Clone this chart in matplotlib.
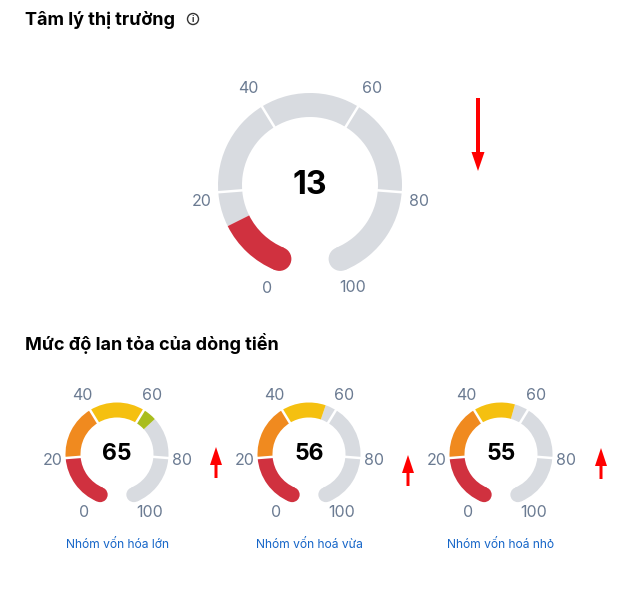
import numpy as np
import matplotlib.pyplot as plt
from matplotlib.patches import Wedge, Circle

plt.rcParams['font.family'] = ['Inter', 'DejaVu Sans']

W, H = 631, 592

# data
main_title = 'Tâm lý thị trường'
main_value = 13
main_trend = 'down'

flow_title = 'Mức độ lan tỏa của dòng tiền'
group_names = ['Nhóm vốn hóa lớn', 'Nhóm vốn hoá vừa', 'Nhóm vốn hoá nhỏ']
group_values = [65, 56, 55]
group_trends = ['up', 'up', 'up']

tick_values = [0, 20, 40, 60, 80, 100]
band_edges = [0, 20, 40, 60, 80, 100]
band_colors = ['#d0313f', '#f08a1f', '#f5c010', '#a9bd1e', '#5aa832']

GRAY = '#d8dbe0'
TICK_COLOR = '#6b7b92'
LINK_COLOR = '#1565c8'

# label placement (angle shift in deg, radius in px) per tick
MAIN_LAB = [(0, 112), (4, 110), (1, 115), (-1, 115), (-4, 110), (0, 111)]
SMALL_LAB = [(-7, 67), (1.5, 65), (-0.8, 68.5), (0.5, 68.5), (-1.5, 65), (7, 67)]

fig = plt.figure(figsize=(W / 100, H / 100), dpi=100)
ax = fig.add_axes([0, 0, 1, 1])
ax.set_xlim(0, W)
ax.set_ylim(0, H)
ax.set_aspect('equal')
ax.axis('off')


def ang(v):
    # 315 degree sweep, 0 at lower left, 100 at lower right
    return 247.5 - v * 3.15


def gauge(cx, cy, r, w, value, labs, fs_tick, fs_val):
    cy = H - cy
    ax.add_patch(Wedge((cx, cy), r, ang(100), ang(value), width=w, color=GRAY, lw=0))
    for lo, hi, c in zip(band_edges[:-1], band_edges[1:], band_colors):
        if value > lo:
            top = min(hi, value)
            ax.add_patch(Wedge((cx, cy), r, ang(top), ang(lo), width=w, color=c, lw=0))
    rm = r - w / 2
    a0 = np.radians(ang(0))
    ax.add_patch(Circle((cx + rm * np.cos(a0), cy + rm * np.sin(a0)), w / 2,
                        color=band_colors[0], lw=0))
    a1 = np.radians(ang(100))
    ax.add_patch(Circle((cx + rm * np.cos(a1), cy + rm * np.sin(a1)), w / 2,
                        color=band_colors[-1] if value >= 100 else GRAY, lw=0))
    for t in tick_values[1:-1]:
        a = np.radians(ang(t))
        ax.plot([cx + (r - w - 2) * np.cos(a), cx + (r + 2) * np.cos(a)],
                [cy + (r - w - 2) * np.sin(a), cy + (r + 2) * np.sin(a)],
                color='white', lw=1.8, solid_capstyle='butt')
    for t, (shift, lr) in zip(tick_values, labs):
        a = np.radians(ang(t) + shift)
        ax.text(cx + lr * np.cos(a), cy + lr * np.sin(a), str(t),
                ha='center', va='center', fontsize=fs_tick, color=TICK_COLOR)
    ax.text(cx, cy, str(value), ha='center', va='center', fontsize=fs_val,
            fontweight='bold', color='black')


def trend_arrow(x, y_tip, y_tail, shaft, head_w, head_l):
    y0 = H - y_tail
    y1 = H - y_tip
    ax.arrow(x, y0, 0, y1 - y0, width=shaft, head_width=head_w, head_length=head_l,
             length_includes_head=True, color='#ff0000', lw=0)


# section 1
ax.text(25, H - 20, main_title, ha='left', va='center', fontsize=13,
        fontweight='bold', color='black')
ax.add_patch(Circle((193, H - 19), 5.5, fill=False, ec='#333333', lw=1.0))
ax.text(193, H - 19.5, 'i', ha='center', va='center', fontsize=6.5,
        fontweight='bold', color='#333333')

gauge(310, 185, 92, 24, main_value, MAIN_LAB, 11.5, 23)
if main_trend == 'down':
    trend_arrow(478, 171, 98, 4, 13, 19)
else:
    trend_arrow(478, 98, 171, 4, 13, 19)

# section 2
ax.text(25, H - 343, flow_title, ha='left', va='center', fontsize=13,
        fontweight='bold', color='black')

centers = [117, 309, 501]
arrow_x = [216, 408, 601]
arrow_tip = [447, 455, 448]
for cx, ax_x, tip, name, val, tr in zip(centers, arrow_x, arrow_tip,
                                        group_names, group_values, group_trends):
    gauge(cx, 454, 51.5, 15, val, SMALL_LAB, 11.5, 16.5)
    ax.text(cx, H - 545, name, ha='center', va='center', fontsize=8.7, color=LINK_COLOR)
    if tr == 'up':
        trend_arrow(ax_x, tip, tip + 31, 3, 12, 18)
    else:
        trend_arrow(ax_x, tip + 31, tip, 3, 12, 18)

fig.savefig('out.png', dpi=100)
